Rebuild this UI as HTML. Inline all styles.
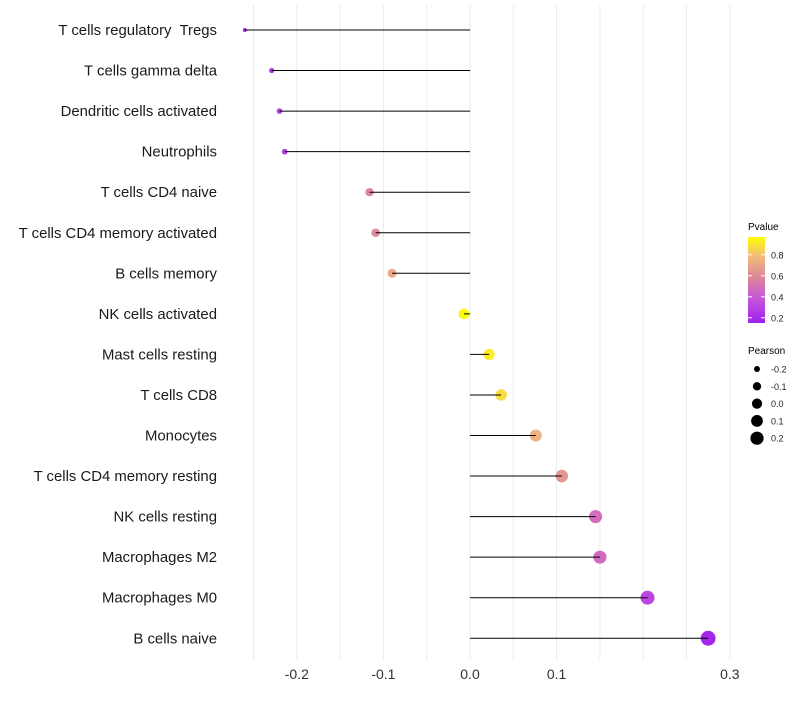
<!DOCTYPE html>
<html><head><meta charset="utf-8"><style>
body{margin:0;background:#fff;font-family:"Liberation Sans",sans-serif}
text{white-space:pre}
</style></head><body>
<svg id="chart" width="800" height="700" xmlns="http://www.w3.org/2000/svg" xml:space="preserve">
<defs><linearGradient id="pg" x1="0" y1="1" x2="0" y2="0">
<stop offset="0" stop-color="#a020f0"/><stop offset="0.3" stop-color="#c858d8"/><stop offset="0.5" stop-color="#d9809f"/><stop offset="0.78" stop-color="#f2bd7a"/><stop offset="1" stop-color="#ffff00"/></linearGradient></defs>
<g id="grid"></g><g id="dots"></g><g id="marks"></g><g id="ylabels"></g><g id="xlabels"></g>
<g id="legend">
<text x="748" y="230" font-size="10">Pvalue</text>
<rect x="748" y="237" width="17" height="86" fill="url(#pg)"/>
<g id="cticks"></g>
<text x="748" y="354" font-size="10">Pearson</text>
<g id="sizeleg"></g>
</g>
</svg>
<script>
const categories=["T cells regulatory  Tregs","T cells gamma delta","Dendritic cells activated","Neutrophils","T cells CD4 naive","T cells CD4 memory activated","B cells memory","NK cells activated","Mast cells resting","T cells CD8","Monocytes","T cells CD4 memory resting","NK cells resting","Macrophages M2","Macrophages M0","B cells naive"];
const pearson=[-0.260,-0.229,-0.220,-0.214,-0.116,-0.109,-0.090,-0.007,0.022,0.036,0.076,0.106,0.145,0.150,0.205,0.275];
const pvalue=[0.18,0.25,0.28,0.28,0.58,0.60,0.72,0.96,0.92,0.88,0.76,0.64,0.48,0.47,0.32,0.18];
const xTicks=[-0.2,-0.1,0.0,0.1,0.3];
const gridTicks=[-0.25,-0.2,-0.15,-0.1,-0.05,0,0.05,0.1,0.15,0.2,0.25,0.3];
const colorTicks=[0.2,0.4,0.6,0.8];
const sizeTicks=[-0.2,-0.1,0.0,0.1,0.2];
const NS="http://www.w3.org/2000/svg";
const x=v=>470+v*866;
const y=i=>30+i*40.55;
const r=v=>Math.sqrt(Math.max(1,4+96*(v+0.26)));
const stops=[[0.15,[160,32,240]],[0.4,[200,88,216]],[0.57,[221,132,160]],[0.8,[242,189,122]],[0.97,[255,255,0]]];
function col(p){p=Math.max(0.15,Math.min(0.97,p));for(let k=0;k<stops.length-1;k++){const[a,ca]=stops[k],[b,cb]=stops[k+1];if(p<=b){const t=(p-a)/(b-a);return`rgb(${ca.map((c,j)=>Math.round(c+(cb[j]-c)*t)).join(',')})`;}}return'rgb(255,255,0)';}
const cy=p=>323-(p-0.15)/0.82*86;
function mk(tag,at,parent){const e=document.createElementNS(NS,tag);for(const k in at)e.setAttribute(k,at[k]);document.getElementById(parent).appendChild(e);return e;}
gridTicks.forEach(t=>{const e=mk('line',{x1:x(t),x2:x(t),y1:5,y2:660,stroke:'#ebebeb','stroke-width':1},'grid');

});
categories.forEach((c,i)=>{
const l=mk('line',{x1:x(0),x2:x(pearson[i]),y1:y(i),y2:y(i),stroke:'#000','stroke-width':1},'marks');


const d=mk('circle',{cx:x(pearson[i]),cy:y(i),r:r(pearson[i]),fill:col(pvalue[i])},'dots');


const t=mk('text',{x:217,y:y(i)+5,'text-anchor':'end','font-size':14.9,fill:'#1a1a1a'},'ylabels');t.textContent=c;

});
xTicks.forEach(v=>{const t=mk('text',{x:x(v),y:679,'text-anchor':'middle','font-size':14,fill:'#333'},'xlabels');t.textContent=v.toFixed(1);

});
colorTicks.forEach(p=>{const t=mk('text',{x:771,y:cy(p)+3.5,'font-size':9,fill:'#222'},'cticks');t.textContent=p.toFixed(1);


mk('line',{x1:748,x2:752,y1:cy(p),y2:cy(p),stroke:'#fff'},'cticks');mk('line',{x1:761,x2:765,y1:cy(p),y2:cy(p),stroke:'#fff'},'cticks');});
sizeTicks.forEach((v,k)=>{const yy=369+k*17.3;const c=mk('circle',{cx:757,cy:yy,r:r(v)*0.95,fill:'#000'},'sizeleg');


const t=mk('text',{x:771,y:yy+3.5,'font-size':9,fill:'#222'},'sizeleg');t.textContent=v.toFixed(1);

});
</script>
</body></html>
